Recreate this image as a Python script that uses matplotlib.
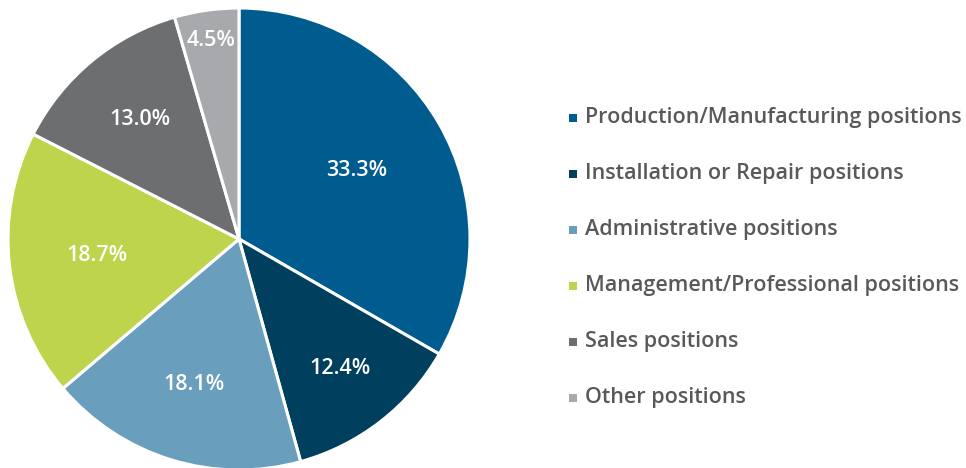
import matplotlib; matplotlib.use('Agg')
import matplotlib.pyplot as plt
import numpy as np

categories = ["Production/Manufacturing positions", "Installation or Repair positions",
              "Administrative positions", "Management/Professional positions",
              "Sales positions", "Other positions"]
shares = [33.3, 12.4, 18.1, 18.7, 13.0, 4.5]
labels = ["33.3%", "12.4%", "18.1%", "18.7%", "13.0%", "4.5%"]
colors = ['#005b8f', '#003f5e', '#699fbc', '#bed44c', '#6d6e70', '#a7a9ac']
label_r = [0.59, 0.71, 0.66, 0.62, 0.67, 0.87]  # label distance, fraction of radius

W, H = 966, 468
fig = plt.figure(figsize=(W/100, H/100), dpi=100)
ax = fig.add_axes([0, 0, 1, 1])

cx, cy, R = 239, 229, 231
wedges, _ = ax.pie(shares, colors=colors, startangle=90, counterclock=False,
                   center=(cx, cy), radius=R, frame=True,
                   wedgeprops=dict(edgecolor='white', linewidth=2.2))
ax.set_xlim(0, W); ax.set_ylim(0, H); ax.set_aspect('equal'); ax.axis('off')

for w, lab, rf in zip(wedges, labels, label_r):
    a = np.deg2rad((w.theta1 + w.theta2) / 2)
    ax.text(cx + rf*R*np.cos(a), cy + rf*R*np.sin(a), lab, color='white',
            fontsize=15.5, ha='center', va='center', family='Open Sans', weight='semibold')

# legend
for i, (c, name) in enumerate(zip(colors, categories)):
    y = H - (118 + 56*i)
    ax.scatter([573], [y], marker='s', s=40, color=c, edgecolors='none')
    ax.text(585, y, name, color='#58595b', fontsize=15.5, ha='left', va='center',
            family='Open Sans', weight='semibold')

fig.savefig('out.png', dpi=100)
